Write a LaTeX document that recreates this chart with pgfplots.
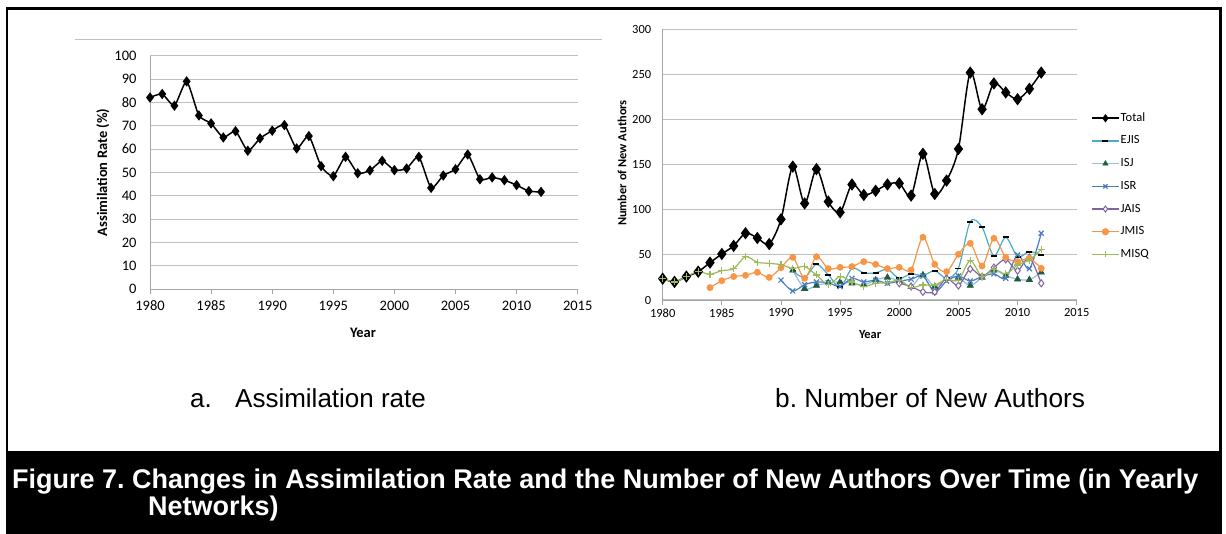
\documentclass[border=0pt]{standalone}
\usepackage{fontspec}
\setmainfont{Liberation Sans}
\newfontfamily\calibri{Carlito}
\usepackage{pgfplots}
\pgfplotsset{compat=1.18}
\frenchspacing

\definecolor{gridc}{RGB}{191,191,191}
\definecolor{axc}{RGB}{165,165,165}
\definecolor{ejis}{RGB}{75,172,198}
\definecolor{isjline}{RGB}{150,190,228}
\definecolor{isjmark}{RGB}{32,92,62}
\definecolor{isr}{RGB}{74,126,187}
\definecolor{jais}{RGB}{128,100,162}
\definecolor{jmis}{RGB}{247,150,70}
\definecolor{misq}{RGB}{155,187,89}

\pgfplotsset{
  excel/.style={
    scale only axis,
    axis x line*=bottom, axis y line*=left,
    axis line style={draw=axc, line width=0.9pt},
    ymajorgrids, grid style={draw=gridc, line width=1pt},
    tick align=outside, major tick length=5pt,
    xtick style={draw=axc, line width=0.9pt},
    ytick style={draw=none},
    xmin=1980, xmax=2015, xtick={1980,1985,...,2015},
    /pgf/number format/1000 sep={},
    /pgf/number format/assume math mode=true,
    every axis plot/.append style={every mark/.append style={solid}},
  }
}

\begin{document}
\begin{tikzpicture}[x=1pt,y=1pt]
\path[use as bounding box] (0,0) rectangle (1226,534);

% outer frame and caption band
\draw[line width=2.5pt] (7,0) -- (7,525.5) -- (1220.5,525.5) -- (1220.5,0);
\fill[black] (5.75,0) rectangle (1221.75,83);
\draw[gridc, line width=1pt] (75,494) -- (602,494);

% (a) assimilation rate
\begin{axis}[excel,
  at={(150pt,244.7pt)}, anchor=south west,
  width=427.7pt, height=233.6pt,
  ymin=0, ymax=100, ytick={0,10,...,100},
  tick label style={font=\calibri\fontsize{14.5}{15}\selectfont},
  yticklabel style={xshift=-5pt},
  xticklabel style={yshift=-3pt},
  xlabel={Year}, ylabel={Assimilation Rate (\%)},
  label style={font=\calibri\bfseries\fontsize{14.5}{15}\selectfont},
  xlabel style={at={(axis description cs:0.498,-0.187)}, anchor=center},
  ylabel style={at={(axis description cs:-0.110,0.50)}, anchor=center},
]
\addplot[black, line width=1.5pt, smooth, tension=0.35, mark=diamond*, mark size=4pt, mark options={fill=black}]
coordinates {
(1980,82.1) (1981,83.6) (1982,78.6) (1983,89.0) (1984,74.4) (1985,71.0)
(1986,65.0) (1987,67.7) (1988,59.3) (1989,64.6) (1990,67.9) (1991,70.3)
(1992,60.3) (1993,65.6) (1994,52.7) (1995,48.4) (1996,56.7) (1997,49.7)
(1998,50.9) (1999,55.0) (2000,51.0) (2001,51.7) (2002,56.7) (2003,43.4)
(2004,48.7) (2005,51.4) (2006,57.7) (2007,47.1) (2008,47.9) (2009,46.7)
(2010,44.6) (2011,42.0) (2012,41.7)};
\end{axis}

% (b) number of new authors
\begin{axis}[excel,
  at={(662.7pt,234pt)}, anchor=south west,
  width=414pt, height=270.7pt,
  ymin=0, ymax=300, ytick={0,50,...,300},
  tick label style={font=\calibri\fontsize{12.5}{13}\selectfont},
  yticklabel style={xshift=-3pt},
  xlabel={Year}, ylabel={Number of New Authors},
  label style={font=\calibri\bfseries\fontsize{12.4}{13}\selectfont},
  xlabel style={at={(axis description cs:0.501,-0.129)}, anchor=center},
  ylabel style={at={(axis description cs:-0.098,0.506)}, anchor=center},
  legend style={at={(axis description cs:1.0345,0.698)}, anchor=north west,
    draw=none, fill=none, inner sep=0pt, row sep=8.7pt,
    font=\calibri\fontsize{12.5}{13}\selectfont,
    nodes={inner sep=1pt, text height=9pt, text depth=3pt}},
  legend cell align=left,
  legend image code/.code={\draw[mark repeat=2,mark phase=2,mark size=3pt] plot coordinates {(0pt,0pt) (13.5pt,0pt) (27pt,0pt)};},
  every axis plot/.append style={smooth, tension=0.5},
]
\addplot[black, line width=1.5pt, mark=diamond*, mark size=5pt, mark options={fill=black}]
coordinates {
(1980,23.6) (1981,20) (1982,26) (1983,31.4) (1984,41.4) (1985,51)
(1986,60) (1987,74) (1988,68.7) (1989,62) (1990,89.4) (1991,147.8)
(1992,107) (1993,145) (1994,109) (1995,97.2) (1996,128) (1997,116.4)
(1998,121) (1999,128) (2000,129.3) (2001,115.7) (2002,162) (2003,117.5)
(2004,132.3) (2005,167.4) (2006,252) (2007,211.4) (2008,240) (2009,230)
(2010,222.5) (2011,234) (2012,252)};
\addlegendentry{Total}

\addplot[ejis, line width=1.2pt, mark=-, mark size=3pt, mark options={draw=black, line width=1.8pt}]
coordinates {
(1991,32) (1992,25) (1993,39.5) (1994,28) (1995,14) (1996,35) (1997,30)
(1998,30) (1999,34) (2000,24) (2001,29) (2002,27) (2003,32.5) (2004,24)
(2005,35) (2006,86.8) (2007,80.6) (2008,48.8) (2009,69.5) (2010,48)
(2011,53.6) (2012,50)};
\addlegendentry{EJIS}

\addplot[isjline, line width=1.2pt, mark=triangle*, mark size=3.6pt, mark options={draw=isjmark, fill=isjmark, line width=0.6pt}]
coordinates {
(1991,33) (1992,12.5) (1993,16) (1994,19) (1995,20) (1996,18.5) (1997,16.6)
(1998,22) (1999,25) (2000,21) (2001,15) (2002,27.7) (2003,15) (2004,24)
(2005,25) (2006,16) (2007,25) (2008,33) (2009,27) (2010,23) (2011,22.5)
(2012,30.7)};
\addlegendentry{ISJ}

\addplot[isr, line width=1.2pt, mark=x, mark size=3.5pt, mark options={line width=1.2pt}]
coordinates {
(1990,22) (1991,10) (1992,17) (1993,20) (1994,19) (1995,15) (1996,24)
(1997,20) (1998,22) (1999,18.5) (2000,21) (2001,23) (2002,26.6) (2003,9)
(2004,21) (2005,26.6) (2006,21) (2007,26) (2008,29) (2009,24) (2010,50)
(2011,34.7) (2012,73.9)};
\addlegendentry{ISR}

\addplot[jais, line width=1.2pt, mark=diamond*, mark size=3.5pt, mark options={fill=white, line width=1pt}]
coordinates {
(2000,18.5) (2001,15) (2002,9) (2003,9) (2004,24) (2005,16) (2006,34.4)
(2007,26) (2008,36) (2009,45) (2010,32.5) (2011,47) (2012,18.5)};
\addlegendentry{JAIS}

\addplot[jmis, line width=1.2pt, mark=*, mark size=2.8pt, mark options={fill=jmis}]
coordinates {
(1984,13.7) (1985,21.4) (1986,26) (1987,27.3) (1988,30.7) (1989,25)
(1990,35.8) (1991,47.3) (1992,24) (1993,48) (1994,34.7) (1995,36.2)
(1996,37) (1997,42.5) (1998,39.5) (1999,34.7) (2000,36.2) (2001,33.3)
(2002,69.5) (2003,39.5) (2004,31.4) (2005,50.6) (2006,62.8) (2007,37.7)
(2008,68.4) (2009,47.3) (2010,42.5) (2011,46.2) (2012,35.1)};
\addlegendentry{JMIS}

\addplot[misq, line width=1.2pt, mark=+, mark size=3.5pt, mark options={line width=1.2pt}]
coordinates {
(1980,23.6) (1981,20) (1982,26) (1983,31.4) (1984,28.5) (1985,32.5)
(1986,34.7) (1987,48) (1988,41.8) (1989,40.6) (1990,39.2) (1991,35)
(1992,37) (1993,27.7) (1994,17) (1995,26) (1996,20) (1997,15) (1998,18.5)
(1999,19) (2000,22) (2001,14) (2002,16.6) (2003,16.6) (2004,23) (2005,22)
(2006,43.6) (2007,26) (2008,34) (2009,29) (2010,38.8) (2011,44.3)
(2012,56)};
\addlegendentry{MISQ}
\end{axis}

% panel captions
\node[anchor=base west, inner sep=0pt, font=\fontsize{26}{30}\selectfont] at (190,126) {a.};
\node[anchor=base west, inner sep=0pt, font=\fontsize{26}{30}\selectfont] at (235,126) {Assimilation rate};
\node[anchor=base west, inner sep=0pt, font=\fontsize{26.3}{30}\selectfont] at (775,126) {b. Number of New Authors};

% figure caption
\node[anchor=base west, inner sep=0pt, text=white, font=\bfseries\fontsize{27}{30}\selectfont] at (12,45)
  {Figure 7. Changes in Assimilation Rate and the Number of New Authors Over Time (in Yearly};
\node[anchor=base west, inner sep=0pt, text=white, font=\bfseries\fontsize{27}{30}\selectfont] at (148,18)
  {Networks)};
\end{tikzpicture}
\end{document}
